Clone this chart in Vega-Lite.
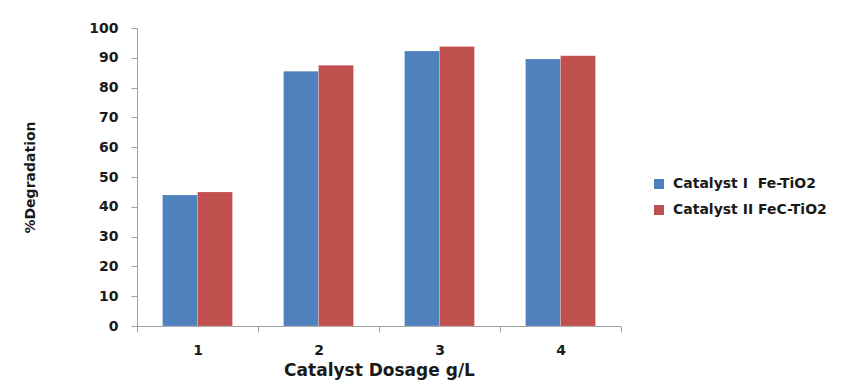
{
  "$schema": "https://vega.github.io/schema/vega-lite/v6.json",
  "width": 484,
  "height": 298,
  "autosize": {"type": "none"},
  "padding": {"left": 137, "top": 28, "right": 233, "bottom": 66},
  "background": "white",
  "config": {
    "view": {"stroke": null},
    "font": "DejaVu Sans"
  },
  "data": {
    "values": [
      {"dosage": "1", "catalyst": "Catalyst I\u00a0\u00a0Fe-TiO2", "degradation": 44.0},
      {"dosage": "1", "catalyst": "Catalyst II FeC-TiO2", "degradation": 45.0},
      {"dosage": "2", "catalyst": "Catalyst I\u00a0\u00a0Fe-TiO2", "degradation": 85.5},
      {"dosage": "2", "catalyst": "Catalyst II FeC-TiO2", "degradation": 87.5},
      {"dosage": "3", "catalyst": "Catalyst I\u00a0\u00a0Fe-TiO2", "degradation": 92.3},
      {"dosage": "3", "catalyst": "Catalyst II FeC-TiO2", "degradation": 93.8},
      {"dosage": "4", "catalyst": "Catalyst I\u00a0\u00a0Fe-TiO2", "degradation": 89.6},
      {"dosage": "4", "catalyst": "Catalyst II FeC-TiO2", "degradation": 90.7}
    ]
  },
  "mark": {"type": "bar", "stroke": "white", "strokeOpacity": 0.4, "strokeWidth": 0.5},
  "encoding": {
    "x": {
      "field": "dosage",
      "type": "nominal",
      "scale": {"paddingInner": 0, "paddingOuter": 0},
      "axis": {
        "title": "Catalyst Dosage g/L",
        "labelAngle": 0,
        "tickBand": "extent",
        "tickSize": 6,
        "tickColor": "#a0a0a0",
        "domainColor": "#a0a0a0",
        "labelFont": "DejaVu Sans",
        "labelFontWeight": "bold",
        "labelFontSize": 14,
        "labelColor": "#1a1a1a",
        "labelPadding": 11,
        "titleFont": "DejaVu Sans",
        "titleFontWeight": "bold",
        "titleFontSize": 17,
        "titleColor": "#1a1a1a",
        "titleX": 242,
        "titleY": 44,
        "titleBaseline": "middle",
        "titleAlign": "center",
        "grid": false
      }
    },
    "xOffset": {
      "field": "catalyst",
      "type": "nominal",
      "sort": ["Catalyst I\u00a0\u00a0Fe-TiO2", "Catalyst II FeC-TiO2"],
      "scale": {"paddingInner": 0, "paddingOuter": 0.73}
    },
    "y": {
      "field": "degradation",
      "type": "quantitative",
      "scale": {"domain": [0, 100], "nice": false},
      "axis": {
        "title": "%Degradation",
        "values": [0, 10, 20, 30, 40, 50, 60, 70, 80, 90, 100],
        "grid": false,
        "tickSize": 6,
        "tickColor": "#a0a0a0",
        "domainColor": "#a0a0a0",
        "labelFont": "DejaVu Sans",
        "labelFontWeight": "bold",
        "labelFontSize": 14,
        "labelColor": "#1a1a1a",
        "labelPadding": 13,
        "titleFont": "DejaVu Sans",
        "titleFontWeight": "bold",
        "titleFontSize": 14,
        "titleColor": "#1a1a1a",
        "titleAngle": -90,
        "titleX": -107,
        "titleY": 149,
        "titleAlign": "center",
        "titleBaseline": "middle"
      }
    },
    "color": {
      "field": "catalyst",
      "type": "nominal",
      "sort": ["Catalyst I\u00a0\u00a0Fe-TiO2", "Catalyst II FeC-TiO2"],
      "scale": {"range": ["#4F81BD", "#C0504D"]},
      "legend": {
        "title": null,
        "orient": "none",
        "legendX": 515,
        "legendY": 149,
        "symbolType": "square",
        "symbolSize": 100,
        "symbolStrokeWidth": 0,
        "labelFont": "DejaVu Sans",
        "labelFontWeight": "bold",
        "labelFontSize": 14,
        "labelColor": "#1a1a1a",
        "labelOffset": 7,
        "labelLimit": 300,
        "rowPadding": 12
      }
    }
  }
}
